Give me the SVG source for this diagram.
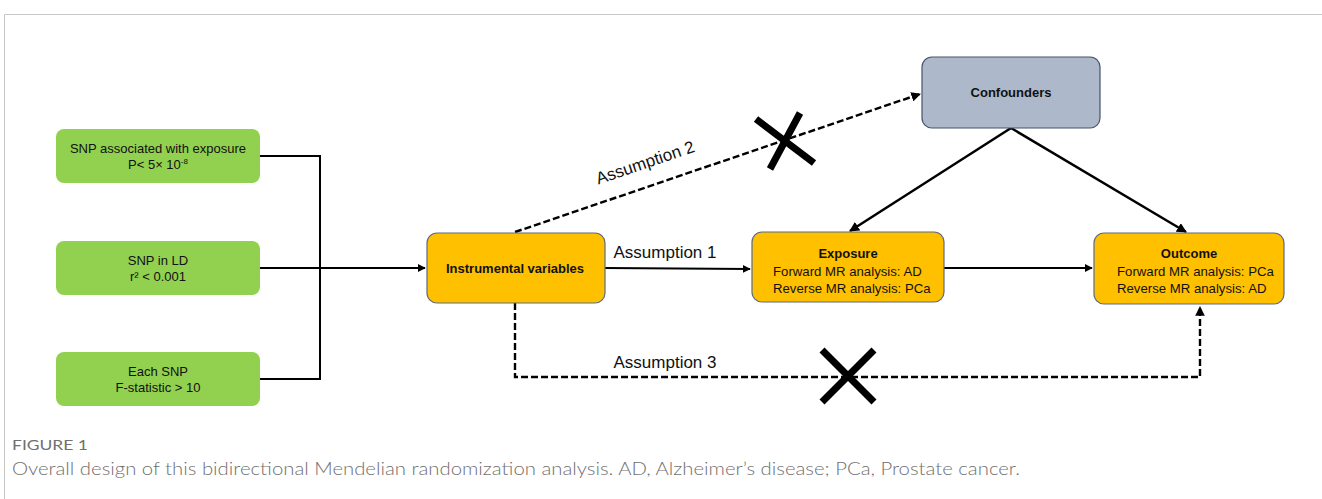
<svg xmlns="http://www.w3.org/2000/svg" width="1322" height="499" viewBox="0 0 1322 499">
<style>
.frame{fill:none;stroke:#c8c8c8;stroke-width:1}
.green{fill:#92D050;stroke:none}
.orange{fill:#FFC000;stroke:#5f6b80;stroke-width:1.2}
.conf{fill:#ADB9CA;stroke:#44546A;stroke-width:1.2}
.t{font-family:"Liberation Sans",Arial,sans-serif;fill:#111;text-anchor:middle}
.s{font-family:"Liberation Sans",Arial,sans-serif;fill:#111;text-anchor:start;font-size:13.2px}
.b{font-weight:bold}
.line{fill:none;stroke:#000;stroke-width:2}
.thick{fill:none;stroke:#000;stroke-width:2.5}
.dash{fill:none;stroke:#000;stroke-width:2.4;stroke-dasharray:7,3}
.xm{stroke:#000;stroke-width:7;stroke-linecap:butt}
.lbl{font-family:"Liberation Sans",Arial,sans-serif;font-size:17px;fill:#111;text-anchor:middle}
.cap{font-family:Lato,"Open Sans",sans-serif;fill:#707070}
</style>
<defs>
<marker id="ah" viewBox="0 0 10 10" refX="9" refY="5" markerWidth="4" markerHeight="4" orient="auto" markerUnits="strokeWidth">
<path d="M0,0 L10,5 L0,10 z" fill="#000"/>
</marker>
</defs>
<path class="frame" d="M4.5,499 V14.5 H1322"/>
<g id="connectors">
<path class="line" d="M260,156 H320 M260,379 H320 M320,155 V380 M260,268 H320"/>
<path class="line" d="M320,268 H425" marker-end="url(#ah)"/>
<path class="line" d="M605,268 L750,269" marker-end="url(#ah)"/>
<path class="line" d="M944,268 L1092,268" marker-end="url(#ah)"/>
<path class="thick" d="M1011,128 L850,231" marker-end="url(#ah)"/>
<path class="thick" d="M1011,128 L1186,232" marker-end="url(#ah)"/>
<path class="dash" d="M515,232 L920,94" marker-end="url(#ah)"/>
<path class="dash" d="M515,303 V377 H1200 V307" marker-end="url(#ah)"/>
<line class="xm" x1="800" y1="113" x2="770" y2="169"/>
<line class="xm" x1="756" y1="119" x2="814" y2="163"/>
<line class="xm" x1="822" y1="350" x2="874" y2="402"/>
<line class="xm" x1="874" y1="350" x2="822" y2="402"/>
<text class="lbl" transform="translate(647,168) rotate(-18.7)">Assumption 2</text>
<text class="lbl" x="665" y="258">Assumption 1</text>
<text class="lbl" x="665" y="368">Assumption 3</text>
</g>
<g id="snp1">
<rect class="green" x="56" y="129" width="204" height="54" rx="8"/>
<text class="t" x="158" y="153" font-size="13">SNP associated with exposure</text>
<text class="t" x="158" y="169" font-size="13">P&lt; 5× 10<tspan font-size="8" dy="-5">-8</tspan></text>
</g>
<g id="snp2">
<rect class="green" x="56" y="241" width="204" height="54" rx="8"/>
<text class="t" x="158" y="265" font-size="13">SNP in LD</text>
<text class="t" x="158" y="281" font-size="13">r² &lt; 0.001</text>
</g>
<g id="snp3">
<rect class="green" x="56" y="352" width="204" height="54" rx="8"/>
<text class="t" x="158" y="376" font-size="13">Each SNP</text>
<text class="t" x="158" y="392" font-size="13">F-statistic &gt; 10</text>
</g>
<g id="iv">
<rect class="orange" x="427" y="233" width="178" height="70" rx="10"/>
<text class="t b" x="515" y="273" font-size="13">Instrumental variables</text>
</g>
<g id="exposure">
<rect class="orange" x="752" y="232" width="192" height="70" rx="10"/>
<text class="t b" x="848" y="258" font-size="13">Exposure</text>
<text class="s" x="773" y="276">Forward MR analysis: AD</text>
<text class="s" x="773" y="293">Reverse MR analysis: PCa</text>
</g>
<g id="outcome">
<rect class="orange" x="1094" y="233" width="190" height="71" rx="10"/>
<text class="t b" x="1189" y="258" font-size="13">Outcome</text>
<text class="s" x="1117" y="276">Forward MR analysis: PCa</text>
<text class="s" x="1117" y="293">Reverse MR analysis: AD</text>
</g>
<g id="confounders">
<rect class="conf" x="922" y="57" width="178" height="71" rx="10"/>
<text class="t b" x="1011" y="97" font-size="13">Confounders</text>
</g>
<g id="caption">
<text class="cap" x="12" y="450" font-size="14" textLength="76" lengthAdjust="spacingAndGlyphs">FIGURE 1</text>
<text class="cap" x="12" y="475" font-size="18" font-weight="300" textLength="1008" lengthAdjust="spacingAndGlyphs">Overall design of this bidirectional Mendelian randomization analysis. AD, Alzheimer’s disease; PCa, Prostate cancer.</text>
</g>
</svg>
